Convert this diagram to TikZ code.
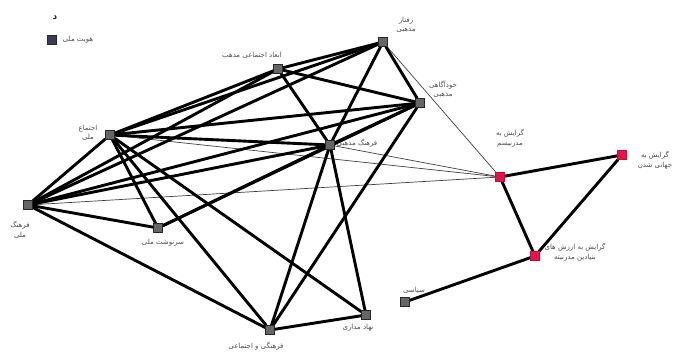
\documentclass[tikz,border=0pt]{standalone}
\usepackage{fontspec}
\newfontfamily\arabicfont[Script=Arabic]{DejaVu Sans}
\TeXXeTstate=1
\usetikzlibrary{backgrounds}
\newcommand\fa[1]{\beginR #1\endR}
\tikzset{
  sq/.style={rectangle, draw=black!85, fill=black!60, minimum size=9pt, inner sep=0pt},
  pk/.style={rectangle, draw={rgb,255:red,200;green,10;blue,50}, fill={rgb,255:red,228;green,20;blue,72}, minimum size=9pt, inner sep=0pt},
  lbl/.style={font=\arabicfont\fontsize{7}{9.5}\selectfont, text=black!70, align=center, inner sep=0pt},
  edg/.style={line width=2.9pt, black},
  thn/.style={line width=0.7pt, black!75}
}
\begin{document}
\begin{tikzpicture}[x=1pt,y=-1pt]
\useasboundingbox (0,0) rectangle (675,353);
% nodes
\node[sq] (A) at (383,42) {};
\node[sq] (B) at (278,69) {};
\node[sq] (C) at (420,103) {};
\node[sq] (D) at (110,135) {};
\node[sq] (E) at (330,145) {};
\node[sq] (F) at (28,205) {};
\node[sq] (G) at (158,228) {};
\node[pk] (H) at (500,177) {};
\node[pk] (I) at (622,155) {};
\node[pk] (J) at (535,256) {};
\node[sq] (K) at (405,302) {};
\node[sq] (L) at (366,315) {};
\node[sq] (M) at (270,330) {};
\node[sq, fill={rgb,255:red,60;green,60;blue,90}] (leg) at (52,40) {};
% labels
\node[lbl, font=\arabicfont\bfseries\fontsize{9}{10}\selectfont, text=black!85] (t0) at (55,18) {\fa{د}};
\node[lbl] (tleg) at (78,40) {\fa{هویت ملی}};
\node[lbl] (tA) at (406,25) {\fa{رفتار}\\\fa{مذهبی}};
\node[lbl] (tB) at (252,55) {\fa{ابعاد اجتماعی مذهب}};
\node[lbl] (tC) at (443,89) {\fa{خودآگاهی}\\\fa{مذهبی}};
\node[lbl] (tD) at (88,133) {\fa{اجتماع}\\\fa{ملی}};
\node[lbl] (tE) at (357,143) {\fa{فرهنگ مذهبی}};
\node[lbl] (tF) at (20,230) {\fa{فرهنگ}\\\fa{ملی}};
\node[lbl] (tG) at (163,243) {\fa{سرنوشت ملی}};
\node[lbl] (tH) at (510,138) {\fa{گرایش به}\\\fa{مدرنیسم}};
\node[lbl] (tI) at (655,160) {\fa{گرایش به}\\\fa{جهانی شدن}};
\node[lbl] (tJ) at (575,252) {\fa{گرایش به ارزش های}\\\fa{بنیادین مدرنیته}};
\node[lbl] (tK) at (414,290) {\fa{سیاسی}};
\node[lbl] (tL) at (358,328) {\fa{نهاد مداری}};
\node[lbl] (tM) at (256,346) {\fa{فرهنگی و اجتماعی}};
% edges
\begin{pgfonlayer}{background}
\fill[white] (0,0) rectangle (675,353);
\draw[thn] (A) -- (H);
\draw[thn] (D) -- (H);
\draw[thn] (E) -- (H);
\draw[thn] (F) -- (H);
\draw[edg] (A) -- (B);
\draw[edg] (A) -- (D);
\draw[edg] (A) -- (F);
\draw[edg] (A) -- (C);
\draw[edg] (A) -- (E);
\draw[edg] (B) -- (C);
\draw[edg] (B) -- (D);
\draw[edg] (B) -- (F);
\draw[edg] (B) -- (E);
\draw[edg] (C) -- (D);
\draw[edg] (C) -- (F);
\draw[edg] (C) -- (E);
\draw[edg] (C) -- (G);
\draw[edg] (C) -- (M);
\draw[edg] (D) -- (E);
\draw[edg] (D) -- (F);
\draw[edg] (D) -- (G);
\draw[edg] (D) -- (L);
\draw[edg] (D) -- (M);
\draw[edg] (E) -- (F);
\draw[edg] (E) -- (G);
\draw[edg] (E) -- (M);
\draw[edg] (E) -- (L);
\draw[edg] (F) -- (G);
\draw[edg] (F) -- (M);
\draw[edg] (M) -- (L);
\draw[edg] (H) -- (I);
\draw[edg] (H) -- (J);
\draw[edg] (I) -- (J);
\draw[edg] (J) -- (K);
\end{pgfonlayer}
\end{tikzpicture}
\end{document}
